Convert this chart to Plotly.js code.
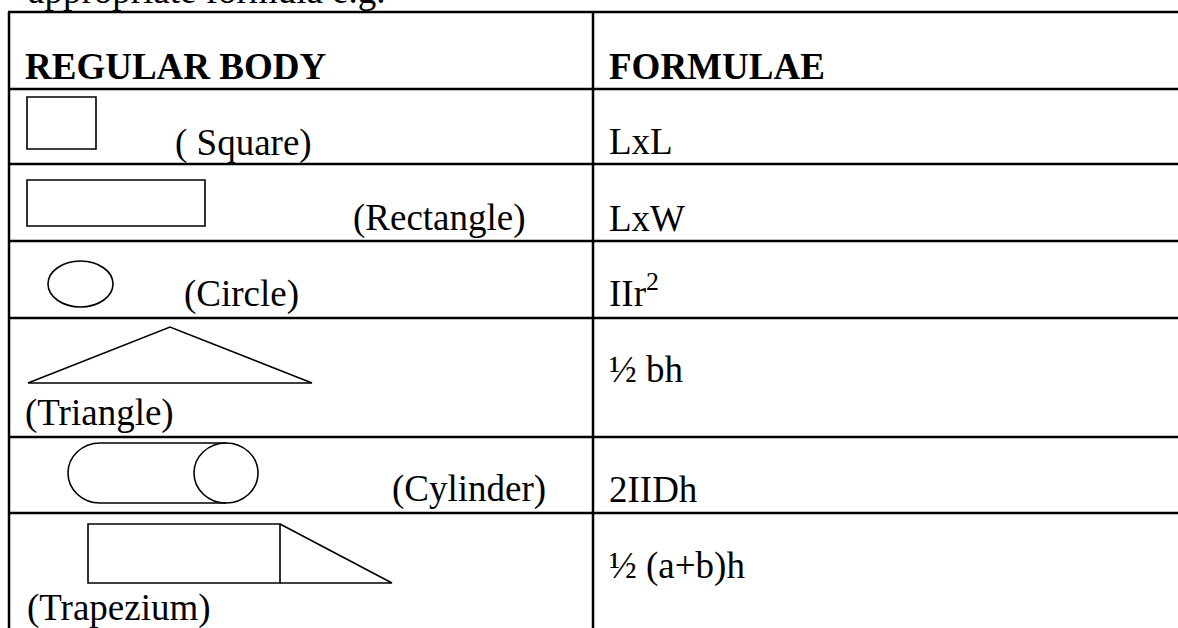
<!DOCTYPE html>
<html>
<head>
<meta charset="utf-8">
<script src="https://cdn.plot.ly/plotly-3.0.1.min.js"></script>
<style>html,body{margin:0;padding:0;background:#fff;}#chart{width:1178px;height:628px;}</style>
</head>
<body>
<div id="chart"></div>
<script>
// ---- content ----
const introText = "appropriate formula e.g.";
const headers = ["REGULAR BODY", "FORMULAE"];
const bodyLabels = ["( Square)", "(Rectangle)", "(Circle)", "(Triangle)", "(Cylinder)", "(Trapezium)"];
const formulae = ["LxL", "LxW", "IIr<sup>2</sup>", "\u00BD bh", "2IIDh", "\u00BD (a+b)h"];

// ---- layout geometry (pixel-space data coordinates) ----
const W = 1178, H = 628;
const rowEdges = [12, 89, 164, 241, 318, 437, 513];
const colEdges = [9, 593];
const bodyLabelX = [173, 351, 182, 23, 390, 25];
const bodyBaseline = [157, 232, 308, 427, 503, 622];
const formulaBaseline = [155, 232, 307, 383, 503, 580];
const headerBaseline = 80;
const formulaX = 607;
const FS = 37;
const FONT = "Liberation Serif, Times New Roman, serif";
const DESC = 9; // baseline -> annotation box bottom

const shapes = [];
const lineStyle = {color: "#000", width: 2.5};
rowEdges.forEach(y => shapes.push({type: "line", xref: "x", yref: "y", x0: colEdges[0] - 1, x1: W + 5, y0: y, y1: y, line: lineStyle}));
colEdges.forEach(x => shapes.push({type: "line", xref: "x", yref: "y", x0: x, x1: x, y0: rowEdges[0], y1: H + 5, line: lineStyle}));

const fig = {color: "#000", width: 1.6};
// square
shapes.push({type: "rect", xref: "x", yref: "y", x0: 27, x1: 96, y0: 97, y1: 149, line: fig});
// rectangle
shapes.push({type: "rect", xref: "x", yref: "y", x0: 27, x1: 205, y0: 180, y1: 226, line: fig});
// circle
shapes.push({type: "circle", xref: "x", yref: "y", x0: 48, x1: 113, y0: 261, y1: 307, line: fig});
// triangle
shapes.push({type: "path", xref: "x", yref: "y", path: "M28,383 L170,327 L312,383 Z", line: fig});
// cylinder: left half-ellipse + sides + right ellipse
(function () {
  const cxL = 100, cxR = 226, cy = 473, rx = 32, ry = 30, k = 0.5523;
  const p = "M" + cxR + "," + (cy - ry) + " L" + cxL + "," + (cy - ry) +
    " C" + (cxL - k * rx) + "," + (cy - ry) + " " + (cxL - rx) + "," + (cy - k * ry) + " " + (cxL - rx) + "," + cy +
    " C" + (cxL - rx) + "," + (cy + k * ry) + " " + (cxL - k * rx) + "," + (cy + ry) + " " + cxL + "," + (cy + ry) +
    " L" + cxR + "," + (cy + ry);
  shapes.push({type: "path", xref: "x", yref: "y", path: p, line: fig});
  shapes.push({type: "circle", xref: "x", yref: "y", x0: cxR - rx, x1: cxR + rx, y0: cy - ry, y1: cy + ry, line: fig});
})();
// trapezium: rectangle + right-angled triangle
shapes.push({type: "rect", xref: "x", yref: "y", x0: 88, x1: 280, y0: 524, y1: 583, line: fig});
shapes.push({type: "path", xref: "x", yref: "y", path: "M280,524 L392,583 L280,583", line: fig});

const annotations = [];
function addText(text, x, baseline, bold) {
  annotations.push({
    text: bold ? "<b>" + text + "</b>" : text,
    x: x / W, y: 1 - (baseline + DESC) / H, xref: "paper", yref: "paper",
    xanchor: "left", yanchor: "bottom", showarrow: false,
    font: {family: FONT, size: FS, color: "#000"}
  });
}
addText(introText, 26, 4, false);
addText(headers[0], 23, headerBaseline, true);
addText(headers[1], formulaX, headerBaseline, true);
bodyLabels.forEach((t, i) => addText(t, bodyLabelX[i], bodyBaseline[i], false));
formulae.forEach((t, i) => addText(t, formulaX, formulaBaseline[i], false));

Plotly.newPlot("chart", [], {
  width: W, height: H,
  margin: {l: 0, r: 0, t: 0, b: 0, pad: 0},
  paper_bgcolor: "#fff", plot_bgcolor: "#fff",
  showlegend: false,
  xaxis: {range: [0, W], visible: false, fixedrange: true},
  yaxis: {range: [H, 0], visible: false, fixedrange: true},
  shapes: shapes,
  annotations: annotations
}, {displayModeBar: false, staticPlot: true});
</script>
</body>
</html>
